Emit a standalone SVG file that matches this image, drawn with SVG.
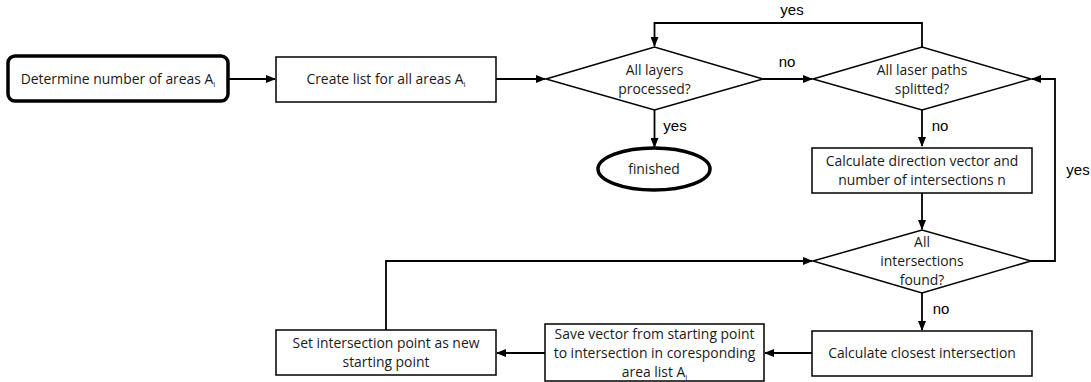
<svg xmlns="http://www.w3.org/2000/svg" width="1091" height="382" viewBox="0 0 1091 382">
<style>
.box{fill:#fff;stroke:#000;stroke-width:1.5}
.term{fill:#fff;stroke:#000;stroke-width:3.5}
.t{font-family:"Open Sans","Liberation Sans",sans-serif;font-size:13.9px;fill:#1a1a1a;text-anchor:middle}
.lbl{font-family:"Liberation Sans",Arial,sans-serif;font-size:15px;fill:#000;text-anchor:middle}
.sub{font-size:8px}
.c{fill:none;stroke:#000;stroke-width:1.8}
</style>
<defs>
<marker id="ah" markerWidth="10" markerHeight="8" refX="9" refY="4" orient="auto" markerUnits="userSpaceOnUse">
<path d="M0,0 L10,4 L0,8 z" fill="#000"/>
</marker>
</defs>
<rect width="1091" height="382" fill="#fff"/>
<g id="connectors">
<path class="c" d="M229,79 H275" marker-end="url(#ah)"/>
<path class="c" d="M496,79 H545" marker-end="url(#ah)"/>
<path class="c" d="M763,79 H812" marker-end="url(#ah)"/>
<path class="c" d="M922,47 V23 H654.5 V46" marker-end="url(#ah)"/>
<path class="c" d="M654.5,110 V147" marker-end="url(#ah)"/>
<path class="c" d="M922,110 V146" marker-end="url(#ah)"/>
<path class="c" d="M922,193 V229" marker-end="url(#ah)"/>
<path class="c" d="M922,293 V330" marker-end="url(#ah)"/>
<path class="c" d="M1031,261 H1055 V79 H1032" marker-end="url(#ah)"/>
<path class="c" d="M812,353 H765" marker-end="url(#ah)"/>
<path class="c" d="M545,353 H497" marker-end="url(#ah)"/>
<path class="c" d="M386,330 V261 H812" marker-end="url(#ah)"/>
<text class="lbl" x="792" y="15">yes</text>
<text class="lbl" x="787" y="67">no</text>
<text class="lbl" x="675" y="131">yes</text>
<text class="lbl" x="940" y="131">no</text>
<text class="lbl" x="1078" y="175">yes</text>
<text class="lbl" x="941" y="314">no</text>
</g>
<g id="n1">
<rect class="term" x="8" y="56" width="220" height="45" rx="7"/>
<text class="t" x="118" y="84">Determine number of areas A<tspan class="sub" dy="3">i</tspan></text>
</g>
<g id="n2">
<rect class="box" x="276" y="57" width="220" height="45"/>
<text class="t" x="386" y="84">Create list for all areas A<tspan class="sub" dy="3">i</tspan></text>
</g>
<g id="d1">
<polygon class="box" points="546,79 654.5,47 763,79 654.5,110"/>
<text class="t" x="654.5" y="75">All layers</text>
<text class="t" x="654.5" y="94">processed?</text>
</g>
<g id="end">
<ellipse class="term" cx="654" cy="169" rx="56" ry="21"/>
<text class="t" x="654" y="174">finished</text>
</g>
<g id="d2">
<polygon class="box" points="813,79 922,47 1031,79 922,110"/>
<text class="t" x="922" y="75">All laser paths</text>
<text class="t" x="922" y="94">splitted?</text>
</g>
<g id="n3">
<rect class="box" x="812" y="148" width="220" height="45"/>
<text class="t" x="922" y="166">Calculate direction vector and</text>
<text class="t" x="922" y="185">number of intersections n</text>
</g>
<g id="d3">
<polygon class="box" points="813,261 922,230 1031,261 922,293"/>
<text class="t" x="922" y="247">All</text>
<text class="t" x="922" y="266">intersections</text>
<text class="t" x="922" y="285">found?</text>
</g>
<g id="n4">
<rect class="box" x="812" y="331" width="220" height="45"/>
<text class="t" x="922" y="358">Calculate closest intersection</text>
</g>
<g id="n5">
<rect class="box" x="545" y="324" width="219" height="57"/>
<text class="t" x="654.5" y="339">Save vector from starting point</text>
<text class="t" x="654.5" y="358">to intersection in coresponding</text>
<text class="t" x="654.5" y="377">area list A<tspan class="sub" dy="3">i</tspan></text>
</g>
<g id="n6">
<rect class="box" x="276" y="330" width="220" height="45"/>
<text class="t" x="386" y="348">Set intersection point as new</text>
<text class="t" x="386" y="367">starting point</text>
</g>
</svg>
